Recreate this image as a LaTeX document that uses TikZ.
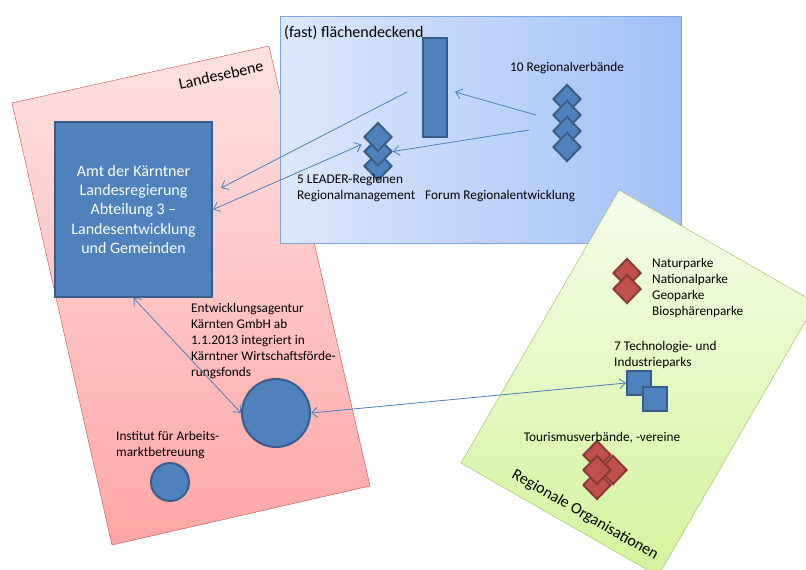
\documentclass[tikz,border=0pt]{standalone}
\usepackage{fontspec}
\setmainfont{Carlito}
\usepackage{tikz}
\usetikzlibrary{shapes.geometric, positioning, arrows.meta}

\definecolor{nodefill}{HTML}{4F81BD}
\definecolor{nodeline}{HTML}{385D8A}
\definecolor{redfill}{HTML}{C0504D}
\definecolor{redline}{HTML}{8C3836}
\definecolor{linkblue}{HTML}{4A7EBB}
\definecolor{pinkline}{HTML}{C0504D}
\definecolor{pinktop}{HTML}{FFE2E2}
\definecolor{pinkbot}{HTML}{FFA6A6}
\definecolor{blueline}{HTML}{7BA3DE}
\definecolor{blueleft}{HTML}{DDE8FC}
\definecolor{blueright}{HTML}{A2C0F6}
\definecolor{greenline}{HTML}{9BBB59}
\definecolor{greentop}{HTML}{F5FCEA}
\definecolor{greenbot}{HTML}{D4F49C}

\begin{document}
\begin{tikzpicture}[x=1pt, y=-1pt, on grid, node distance=16pt,
    >={Straight Barb[length=6pt,width=10pt]}]
    \tikzset{block/.style={rectangle, draw=nodeline, fill=nodefill, line width=2pt, inner sep=0pt},
        bluedia/.style={diamond, draw=nodeline, fill=nodefill, line width=2pt, inner sep=0pt,
            minimum width=28pt, minimum height=29pt},
        reddia/.style={bluedia, draw=redline, fill=redfill},
        blob/.style={circle, draw=nodeline, fill=nodefill, line width=2pt, inner sep=0pt},
        lbl/.style={font=\fontsize{13.3}{16}\selectfont, align=left, inner sep=0pt},
        title/.style={font=\fontsize{16}{19}\selectfont, inner sep=0pt}}
    \tikzstyle{every edge}=[draw=linkblue, line width=0.8pt]

    \useasboundingbox (0,0) rectangle (806,570);
    \clip (0,0) rectangle (806,570);

    % the three levels
    \draw[draw=pinkline, top color=pinktop, bottom color=pinkbot]
        (12,103) -- (269,46) -- (370,486) -- (112,545) -- cycle;
    \draw[draw=blueline, left color=blueleft, right color=blueright]
        (280,16) rectangle (681,243);
    \draw[draw=greenline, top color=greentop, bottom color=greenbot]
        (619,190) -- (816,303) -- (658,576) -- (461,463) -- cycle;

    \node[title, rotate=12.5] (land) at (221,75) {Landesebene};
    \node[title, anchor=west] (fast) at (284,33) {(fast) flächendeckend};
    \node[title, rotate=-30] (regorg) at (585,515) {Regionale Organisationen};

    % Landesebene
    \node[block, minimum width=157pt, minimum height=175pt, text=white,
        align=center, font=\fontsize{16}{19.2}\selectfont] (amt) at (133.5,209.5)
        {Amt der Kärntner\\Landesregierung\\Abteilung 3 –\\Landesentwicklung\\und Gemeinden};
    \node[blob, minimum size=68pt] (eak) at (276,413) {};
    \node[lbl, anchor=west] (eak_txt) at (191,341)
        {Entwicklungsagentur\\Kärnten GmbH ab\\1.1.2013 integriert in\\Kärntner Wirtschaftsförde-\\rungsfonds};
    \node[blob, minimum size=38pt] (ifa) at (170,482) {};
    \node[lbl, anchor=west] (ifa_txt) at (116,445.5) {Institut für Arbeits-\\marktbetreuung};

    % flaechendeckend
    \node[block, minimum width=24pt, minimum height=99pt] (bar) at (435,87.5) {};
    \node[bluedia] (leader_3) at (378,166) {};
    \node[bluedia, above=14.5pt of leader_3] (leader_2) {};
    \node[bluedia, above=14.5pt of leader_2] (leader_1) {};
    \node[lbl, anchor=west] (leader_txt) at (297,188.5) {5 LEADER-Regionen\\Regionalmanagement};
    \node[bluedia] (rv_1) at (567,99) {};
    \node[bluedia, below=of rv_1] (rv_2) {};
    \node[bluedia, below=of rv_2] (rv_3) {};
    \node[bluedia, below=of rv_3] (rv_4) {};
    \node[lbl, above=31pt of rv_1] (rv_txt) {10 Regionalverbände};
    \node[lbl, anchor=west] (forum) at (425,196) {Forum Regionalentwicklung};

    % Regionale Organisationen
    \node[reddia] (np_1) at (627,273) {};
    \node[reddia, below=of np_1] (np_2) {};
    \node[lbl, anchor=west] (np_txt) at (652,288) {Naturparke\\Nationalparke\\Geoparke\\Biosphärenparke};
    \node[block, minimum size=24pt] (tp_1) at (639,383) {};
    \node[block, minimum size=24pt] (tp_2) at (655,399) {};
    \node[lbl, anchor=west] (tp_txt) at (614,355) {7 Technologie- und\\Industrieparks};
    \node[reddia] (tv_1) at (597,455) {};
    \node[reddia] (tv_2) at (597,485) {};
    \node[reddia] (tv_3) at (613,470) {};
    \node[reddia] (tv_4) at (597,470) {};
    \node[lbl] (tv_txt) at (602,438) {Tourismusverbände, -vereine};

    \path[->]
    ([xshift=-15pt,yshift=-4.5pt]bar.west) edge ([xshift=8pt,yshift=21.5pt]amt.east)
    ([xshift=-16pt]rv_2.west) edge ([xshift=7pt,yshift=-4.5pt]bar.east)
    ([xshift=-23pt,yshift=1pt]rv_3.west) edge (leader_2.east);
    \path[<->]
    (amt.east) edge ([xshift=-1.5pt,yshift=7pt]leader_2.west)
    (amt.south) edge (eak.west)
    (eak.east) edge (tp_1.west);
\end{tikzpicture}
\end{document}
